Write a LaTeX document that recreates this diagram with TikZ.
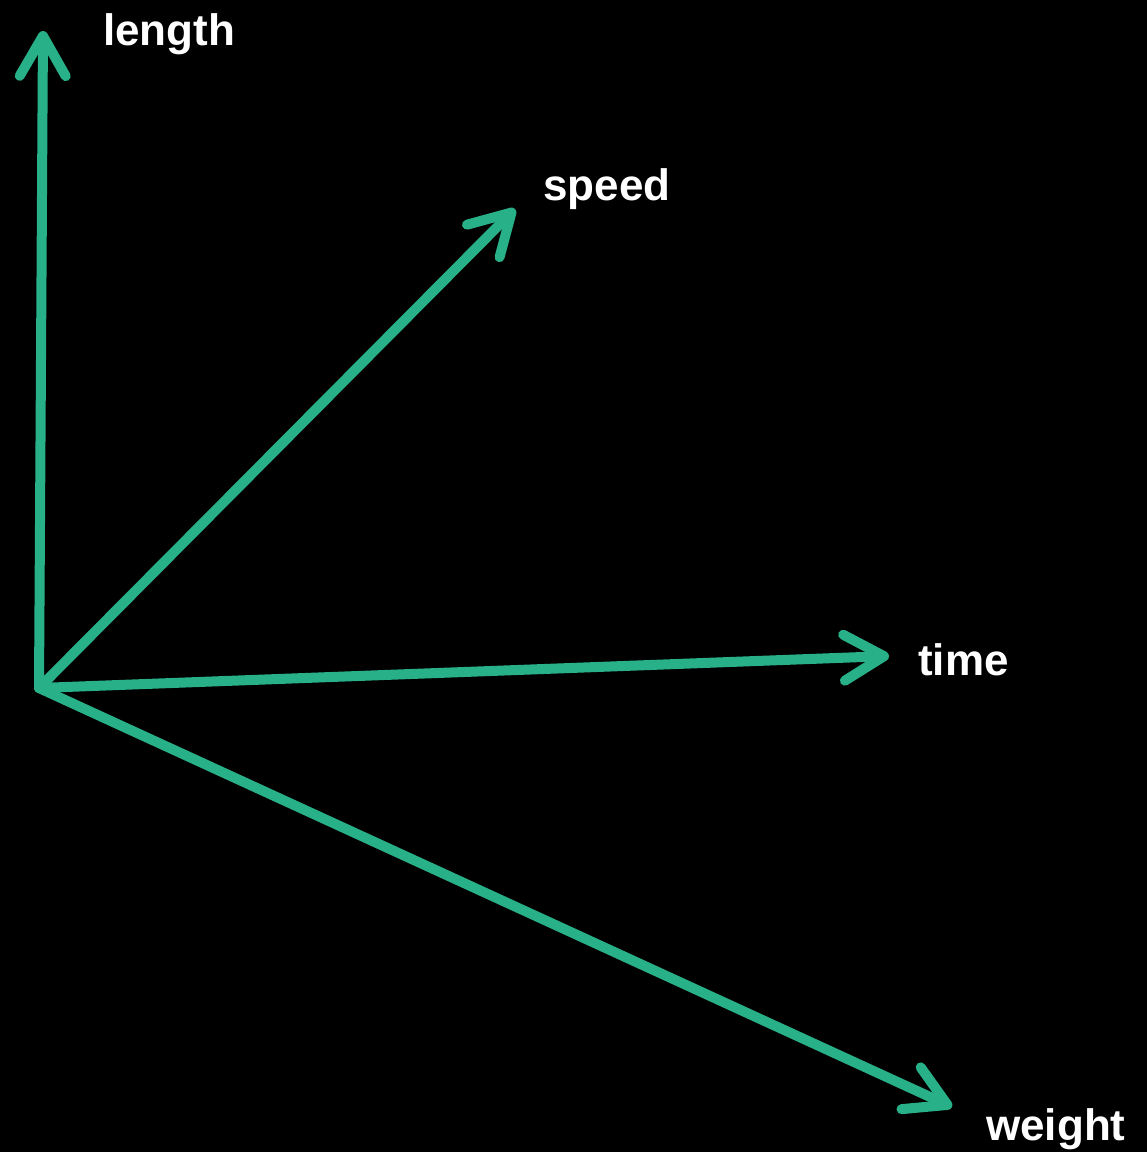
\documentclass[tikz,border=0pt]{standalone}
\usepackage{fontspec}
\setmainfont{Liberation Sans}
\usetikzlibrary{arrows.meta}
\definecolor{axgreen}{RGB}{40,177,137}
\tikzset{
  ax/.style={draw=axgreen, line width=10pt, line cap=round, line join=round,
    -{Straight Barb[length=40pt, width=46pt, round]}},
  lab/.style={text=white, font=\bfseries\fontsize{44}{48}\selectfont, anchor=base west, inner sep=0pt}
}
\begin{document}
\begin{tikzpicture}[x=1pt,y=-1pt]
\fill[black] (0,0) rectangle (1147,1152);
\useasboundingbox (0,0) rectangle (1147,1152);
\coordinate (O) at (39,688);
\coordinate (L) at (43,31);
\coordinate (S) at (515,209);
\coordinate (T) at (889,656);
\coordinate (W) at (952,1107);
\draw[ax] (O) -- (L);
\draw[ax] (O) -- (S);
\draw[ax] (O) -- (T);
\draw[ax] (O) -- (W);
\node[lab] (lL) at (103,45) {length};
\node[lab] (lS) at (543,200) {speed};
\node[lab] (lT) at (918,675) {time};
\node[lab] (lW) at (986,1140) {weight};
\end{tikzpicture}
\end{document}
